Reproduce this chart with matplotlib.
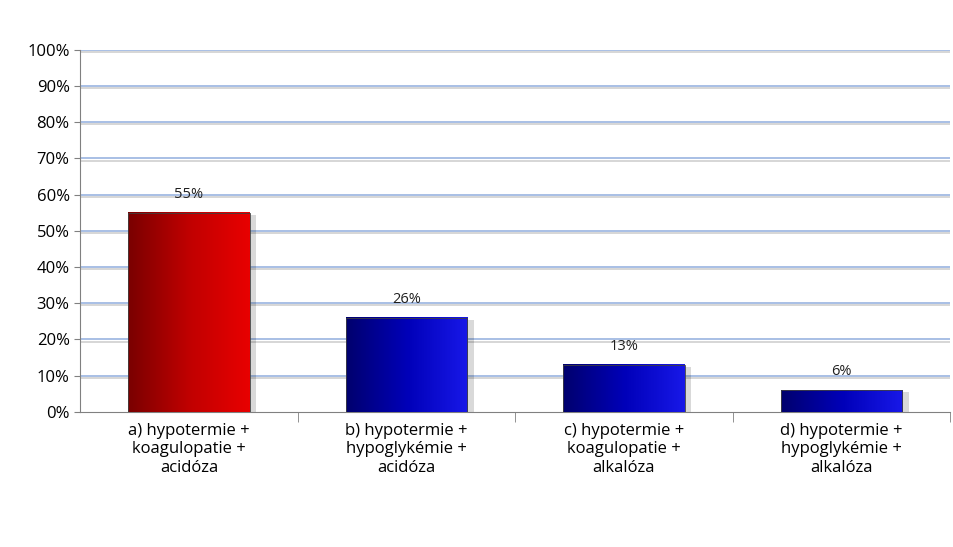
import numpy as np
import matplotlib
matplotlib.use("Agg")
import matplotlib.pyplot as plt
from matplotlib.colors import LinearSegmentedColormap

categories = ["a) hypotermie +\nkoagulopatie +\nacidóza",
              "b) hypotermie +\nhypoglykémie +\nacidóza",
              "c) hypotermie +\nkoagulopatie +\nalkalóza",
              "d) hypotermie +\nhypoglykémie +\nalkalóza"]
values = [55, 26, 13, 6]
labels = ["55%", "26%", "13%", "6%"]

plt.rcParams['font.family'] = ['Open Sans', 'DejaVu Sans']

fig = plt.figure(figsize=(9.54, 5.47), dpi=100)
ax = fig.add_axes([0.084, 0.247, 0.912, 0.662])

red = LinearSegmentedColormap.from_list("r", ["#7a0000", "#c00000", "#e80000"])
blue = LinearSegmentedColormap.from_list("b", ["#00006e", "#0000b8", "#1818e8"])

x = np.arange(len(values))
w = 0.56
grad = np.linspace(0, 1, 100).reshape(1, -1)
for i, v in enumerate(values):
    cmap = red if i == 0 else blue
    # soft shadow
    ax.bar(i + 0.03, v, w, bottom=-0.6, color="#000000", alpha=0.15, zorder=2)
    ax.imshow(grad, cmap=cmap, aspect="auto", extent=(i - w / 2, i + w / 2, 0, v), zorder=3)
    ax.bar(i, v, w, fill=False, edgecolor="#404040", linewidth=0.6, zorder=4)
    ax.text(i, v + 3, labels[i], ha="center", va="bottom", fontsize=10.5, color="#202020", zorder=5)

ax.set_xlim(-0.5, 3.5)
ax.set_ylim(0, 100)
ax.set_yticks(range(0, 101, 10))
ax.set_yticklabels([f"{t}%" for t in range(0, 101, 10)], fontsize=12)
ax.set_xticks(x)
ax.set_xticklabels(categories, fontsize=12)
ax.tick_params(axis="x", length=0, pad=8)
ax.tick_params(axis="y", length=4, color="#808080")
ax.set_xticks([0.5, 1.5, 2.5, 3.5], minor=True)
ax.tick_params(axis="x", which="minor", length=7, color="#808080")
for t in range(10, 101, 10):
    ax.axhline(t - 0.6, color="#d0d0d0", linewidth=1.2, zorder=1)
    ax.axhline(t, color="#9ab4e0", linewidth=1.2, zorder=1)
for s in ["top", "right"]:
    ax.spines[s].set_visible(False)
ax.spines["left"].set_color("#808080")
ax.spines["bottom"].set_color("#808080")

fig.savefig("out.png", dpi=100)
